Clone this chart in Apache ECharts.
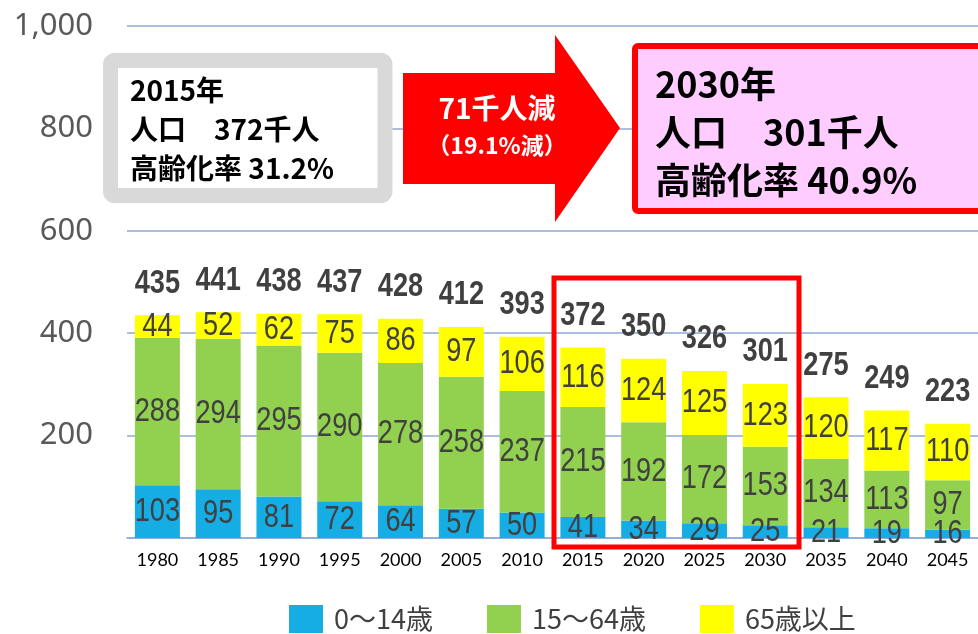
<!DOCTYPE html>
<html>
<head>
<meta charset="utf-8">
<script src="https://cdn.jsdelivr.net/npm/echarts@6/dist/echarts.min.js"></script>
<style>
html,body{margin:0;padding:0;background:#fff;}
#chart{width:978px;height:634px;}
</style>
</head>
<body>
<div id="chart"></div>
<script>
const years = ['1980','1985','1990','1995','2000','2005','2010','2015','2020','2025','2030','2035','2040','2045'];
const age0to14 = [103,95,81,72,64,57,50,41,34,29,25,21,19,16];
const age15to64 = [288,294,295,290,278,258,237,215,192,172,153,134,113,97];
const age65plus = [44,52,62,75,86,97,106,116,124,125,123,120,117,110];
const totals = [435,441,438,437,428,412,393,372,350,326,301,275,249,223];
const seriesNames = ['0〜14歳','15〜64歳','65歳以上'];
const yMin = 0, yMax = 1000, yStep = 200;

const numFont = "'Liberation Sans',Arial,sans-serif";
const jpFont = "'Noto Sans CJK JP','Noto Sans',sans-serif";

function barSeries(name, data, color) {
  return {
    name: name, type: 'bar', stack: 'pop', data: data, barWidth: 45,
    itemStyle: { color: color }
  };
}

const labelRows = years.map((y, i) => [i, age0to14[i], age15to64[i], age65plus[i], totals[i]]);

function labelText(str, pt, bold) {
  return {
    type: 'text', x: pt[0], y: pt[1], scaleX: 0.8,
    style: {
      text: str, fill: '#404040',
      font: (bold ? 'bold ' : '') + '34px ' + numFont,
      align: 'center', verticalAlign: 'middle',
      textAlign: 'center', textVerticalAlign: 'middle'
    }
  };
}

function renderLabels(params, api) {
  const i = api.value(0), a = api.value(1), b = api.value(2), c = api.value(3), t = api.value(4);
  const p1 = api.coord([i, a / 2]);
  const p2 = api.coord([i, a + b / 2]);
  const p3 = api.coord([i, a + b + c / 2]);
  const pt = api.coord([i, t]);
  return {
    type: 'group',
    children: [
      labelText(String(a), p1, false),
      labelText(String(b), p2, false),
      labelText(String(c), p3, false),
      labelText(String(t), [pt[0], pt[1] - 32], true)
    ]
  };
}

const chart = echarts.init(document.getElementById('chart'));
chart.setOption({
  animation: false,
  grid: { left: 127, right: -4.4, top: 26, bottom: 96 },
  legend: {
    data: seriesNames, left: 289, top: 605, icon: 'rect', padding: 0,
    itemWidth: 34, itemHeight: 28, itemGap: 54,
    textStyle: { fontSize: 27, color: '#404040', fontFamily: jpFont, padding: [0,0,0,6] }
  },
  xAxis: {
    type: 'category', data: years,
    axisLine: { lineStyle: { color: '#8fa9d6', width: 1.5 } },
    axisTick: { show: false },
    axisLabel: { color: '#000', fontSize: 18, fontFamily: "Lato,'Noto Sans',sans-serif", margin: 13 }
  },
  yAxis: {
    type: 'value', min: yMin, max: yMax, interval: yStep,
    axisLine: { show: false }, axisTick: { show: false },
    splitLine: { lineStyle: { color: '#8fa9d6', width: 1.5 } },
    axisLabel: {
      color: '#595959', fontSize: 31, fontFamily: "'Noto Sans',sans-serif", margin: 34,
      formatter: v => v === 0 ? '' : v.toLocaleString('en-US')
    }
  },
  series: [
    barSeries(seriesNames[0], age0to14, '#16ace4'),
    barSeries(seriesNames[1], age15to64, '#92d050'),
    barSeries(seriesNames[2], age65plus, '#ffff00'),
    {
      name: 'labels', type: 'custom', data: labelRows, renderItem: renderLabels,
      clip: false, silent: true, z: 5
    }
  ],
  graphic: [
    { type: 'rect', z: 100, shape: { x: 110.5, y: 60.5, width: 274.5, height: 135, r: 4 },
      style: { fill: '#fff', stroke: '#d9d9d9', lineWidth: 15 } },
    { type: 'text', z: 101, left: 130, top: 71,
      style: { text: '2015年\n人口　372千人\n高齢化率 31.2%', fill: '#000',
        font: 'bold 28px ' + jpFont, lineHeight: 39 } },
    { type: 'polygon', z: 100,
      shape: { points: [[403,73],[555,73],[555,35],[620,128],[555,222],[555,184],[403,184]] },
      style: { fill: '#ff0000' } },
    { type: 'text', z: 101, x: 497, y: 108,
      style: { text: '71千人減', fill: '#fff', font: 'bold 28px ' + jpFont, textAlign: 'center', textVerticalAlign: 'middle' } },
    { type: 'text', z: 101, x: 497, y: 145,
      style: { text: '（19.1%減）', fill: '#fff', font: 'bold 23px ' + jpFont, textAlign: 'center', textVerticalAlign: 'middle' } },
    { type: 'rect', z: 100, shape: { x: 635, y: 46, width: 400, height: 165, r: 3 },
      style: { fill: '#ffccff', stroke: '#ff0000', lineWidth: 6 } },
    { type: 'text', z: 101, left: 655, top: 60,
      style: { text: '2030年\n人口　301千人\n高齢化率 40.9%', fill: '#000',
        font: 'bold 36px ' + jpFont, lineHeight: 48 } },
    { type: 'rect', z: 100, shape: { x: 554, y: 278, width: 245, height: 269 },
      style: { fill: 'none', stroke: '#ff0000', lineWidth: 5 } }
  ]
});
</script>
</body>
</html>
